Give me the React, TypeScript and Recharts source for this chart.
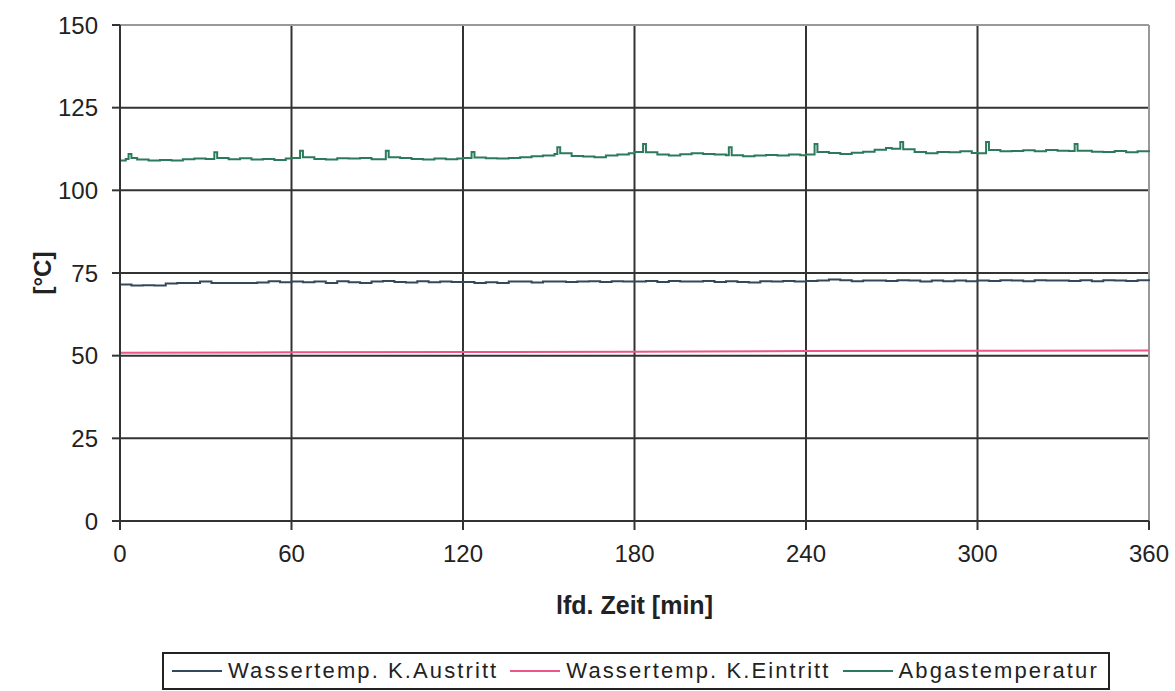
import React from 'react';
import { LineChart, Line, XAxis, YAxis, ReferenceLine, Legend } from 'recharts';

const xTicks = [0, 60, 120, 180, 240, 300, 360];
const yTicks = [0, 25, 50, 75, 100, 125, 150];
const innerX = [60, 120, 180, 240, 300];
const innerY = [25, 50, 75, 100, 125];

const austrittTime = [0, 4, 8, 12, 16, 20, 24, 28, 32, 36, 40, 44, 48, 52, 56, 60, 64, 68, 72, 76, 80, 84, 88, 92, 96, 100, 104, 108, 112, 116, 120, 124, 128, 132, 136, 140, 144, 148, 152, 156, 160, 164, 168, 172, 176, 180, 184, 188, 192, 196, 200, 204, 208, 212, 216, 220, 224, 228, 232, 236, 240, 244, 248, 252, 256, 260, 264, 268, 272, 276, 280, 284, 288, 292, 296, 300, 304, 308, 312, 316, 320, 324, 328, 332, 336, 340, 344, 348, 352, 356, 360];
const austrittValues = [71.5, 71.2, 71.3, 71.2, 71.8, 72.0, 72.0, 72.4, 72.0, 72.0, 72.0, 72.0, 72.1, 72.5, 72.2, 72.4, 72.2, 72.4, 72.0, 72.5, 72.2, 72.0, 72.4, 72.6, 72.3, 72.1, 72.5, 72.2, 72.4, 72.3, 72.3, 72.0, 72.2, 72.0, 72.4, 72.4, 72.1, 72.4, 72.4, 72.3, 72.4, 72.5, 72.3, 72.5, 72.4, 72.4, 72.6, 72.3, 72.6, 72.4, 72.4, 72.6, 72.3, 72.5, 72.3, 72.1, 72.5, 72.4, 72.6, 72.4, 72.6, 72.7, 73.0, 72.8, 72.5, 72.7, 72.7, 72.6, 72.8, 72.7, 72.4, 72.7, 72.5, 72.7, 72.5, 72.7, 72.6, 72.8, 72.7, 72.5, 72.8, 72.7, 72.7, 72.6, 72.8, 72.5, 72.8, 72.7, 72.6, 72.8, 72.6];

const eintrittTime = [0, 60, 120, 180, 240, 300, 360];
const eintrittValues = [50.9, 51.0, 51.1, 51.2, 51.4, 51.5, 51.6];

const abgasTime = [0, 2, 3, 4, 6, 10, 14, 18, 22, 26, 30, 33, 34, 38, 42, 46, 50, 54, 58, 60, 63, 64, 68, 72, 76, 80, 84, 88, 93, 94, 98, 102, 106, 110, 114, 118, 120, 123, 124, 128, 132, 136, 140, 144, 148, 152, 153, 154, 158, 162, 166, 170, 174, 178, 180, 183, 184, 188, 192, 196, 200, 204, 208, 212, 213, 214, 218, 222, 226, 230, 234, 238, 240, 243, 244, 248, 252, 256, 260, 264, 268, 270, 273, 274, 278, 282, 286, 290, 294, 298, 300, 303, 304, 308, 312, 316, 320, 324, 328, 332, 334, 335, 340, 344, 348, 352, 356, 360];
const abgasValues = [109.0, 109.5, 111.0, 109.8, 109.3, 109.0, 109.2, 109.0, 109.4, 109.6, 109.5, 111.5, 109.8, 109.4, 109.7, 109.3, 109.5, 109.2, 109.6, 109.8, 112.0, 110.0, 109.5, 109.3, 109.7, 109.6, 109.8, 109.4, 112.0, 110.0, 109.8, 109.5, 109.3, 109.6, 109.4, 109.6, 109.8, 111.6, 109.9, 109.7, 109.6, 109.8, 110.0, 110.3, 110.5, 111.0, 113.0, 111.2, 110.4, 110.2, 110.0, 110.5, 110.8, 111.2, 111.6, 114.0, 111.5, 110.8, 110.5, 110.9, 111.2, 111.0, 110.8, 110.6, 113.0, 110.6, 110.3, 110.5, 110.7, 110.5, 110.8, 110.6, 110.8, 114.0, 111.6, 111.3, 111.0, 111.4, 111.7, 112.3, 112.8, 112.6, 114.6, 112.4, 111.6, 111.2, 111.6, 111.5, 111.8, 111.3, 111.2, 114.6, 112.2, 111.8, 111.9, 112.1, 111.8, 112.2, 112.0, 111.9, 114.0, 112.0, 111.7, 111.6, 111.9, 111.5, 111.8, 111.6];

const austrittData = austrittTime.map((t, i) => ({ t, v: austrittValues[i] }));
const eintrittData = eintrittTime.map((t, i) => ({ t, v: eintrittValues[i] }));
const abgasData = abgasTime.map((t, i) => ({ t, v: abgasValues[i] }));

const C_AUS = '#34485c';
const C_EIN = '#e9578c';
const C_ABG = '#2b7a5c';
const FONT = '"Liberation Sans", Arial, sans-serif';

const legendItems = [
  { name: 'Wassertemp. K.Austritt', color: C_AUS },
  { name: 'Wassertemp. K.Eintritt', color: C_EIN },
  { name: 'Abgastemperatur', color: C_ABG },
];

const LegendBox = () => (
  <div
    style={{
      border: '2px solid #222',
      height: 38,
      boxSizing: 'border-box',
      display: 'flex',
      alignItems: 'center',
      paddingLeft: 8,
      fontFamily: FONT,
      fontSize: 22,
      letterSpacing: 2.1,
      color: '#222',
      whiteSpace: 'nowrap',
    }}
  >
    {legendItems.map((it) => (
      <div key={it.name} style={{ display: 'flex', alignItems: 'center', marginRight: 12 }}>
        <div style={{ width: 50, height: 2, background: it.color, marginRight: 6 }} />
        <span>{it.name}</span>
      </div>
    ))}
  </div>
);

const YLabel = (props: any) => {
  const vb = props.viewBox || {};
  const cx = vb.x + 42;
  const cy = vb.y + vb.height / 2;
  return (
    <text
      x={cx}
      y={cy}
      transform={`rotate(-90, ${cx}, ${cy})`}
      textAnchor="middle"
      dominantBaseline="central"
      fontFamily={FONT}
      fontWeight="bold"
      fontSize={24}
      fill="#222"
    >
      [°C]
    </text>
  );
};

const XLabel = (props: any) => {
  const vb = props.viewBox || {};
  const cx = vb.x + vb.width / 2;
  const cy = vb.y + 84;
  return (
    <text
      x={cx}
      y={cy}
      textAnchor="middle"
      dominantBaseline="central"
      fontFamily={FONT}
      fontWeight="bold"
      fontSize={25}
      fill="#222"
    >
      lfd. Zeit [min]
    </text>
  );
};

export default function App() {
  return (
    <div style={{ position: 'absolute', left: 0, top: 0, width: 1175, height: 691, background: '#fff' }}>
      <LineChart width={1175} height={691} margin={{ top: 25, right: 26, left: 0, bottom: 72 }}>
        {innerY.map((y) => (
          <ReferenceLine key={'y' + y} y={y} stroke="#333" strokeWidth={2} />
        ))}
        {innerX.map((x) => (
          <ReferenceLine key={'x' + x} x={x} stroke="#333" strokeWidth={2} />
        ))}
        <ReferenceLine y={150} stroke="#999" strokeWidth={2} />
        <ReferenceLine x={360} stroke="#999" strokeWidth={2} />
        <XAxis
          type="number"
          dataKey="t"
          domain={[0, 360]}
          ticks={xTicks}
          interval={0}
          allowDuplicatedCategory={false}
          axisLine={{ stroke: '#333', strokeWidth: 2 }}
          tickLine={{ stroke: '#333', strokeWidth: 2 }}
          tickSize={9}
          tickMargin={15}
          height={60}
          tick={{ fontFamily: FONT, fontSize: 24, fill: '#222' }}
          label={<XLabel />}
        />
        <YAxis
          type="number"
          domain={[0, 150]}
          ticks={yTicks}
          interval={0}
          width={120}
          axisLine={{ stroke: '#333', strokeWidth: 2 }}
          tickLine={{ stroke: '#333', strokeWidth: 2 }}
          tickSize={8}
          tickMargin={14}
          tick={{ fontFamily: FONT, fontSize: 24, fill: '#222' }}
          label={<YLabel />}
        />
        <Line data={eintrittData} dataKey="v" name="Wassertemp. K.Eintritt" type="linear" stroke={C_EIN} strokeWidth={2} dot={false} isAnimationActive={false} />
        <Line data={austrittData} dataKey="v" name="Wassertemp. K.Austritt" type="stepAfter" stroke={C_AUS} strokeWidth={2} dot={false} isAnimationActive={false} />
        <Line data={abgasData} dataKey="v" name="Abgastemperatur" type="stepAfter" stroke={C_ABG} strokeWidth={2} dot={false} isAnimationActive={false} />
        <Legend
          content={<LegendBox />}
          wrapperStyle={{ position: 'absolute', left: 162, top: 652, width: 948 }}
        />
      </LineChart>
    </div>
  );
}
